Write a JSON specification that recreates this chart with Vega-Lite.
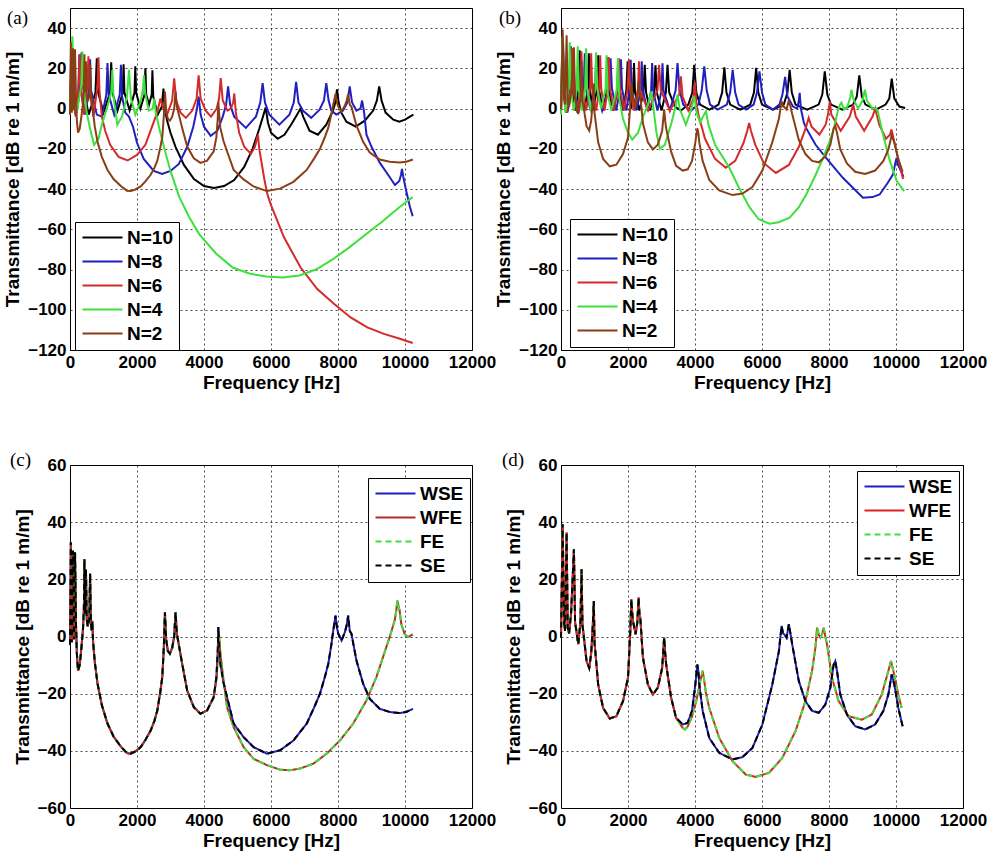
{
  "$schema": "https://vega.github.io/schema/vega-lite/v6.json",
  "background": "white",
  "padding": {"left": 3, "top": 7, "right": 5, "bottom": 5},
  "columns": 2,
  "bounds": "flush",
  "spacing": {"row": 115, "column": 89},
  "resolve": {"scale": {"x": "independent", "y": "independent", "color": "independent", "strokeDash": "independent"}, "axis": {"x": "independent", "y": "independent"}, "legend": {"color": "independent", "strokeDash": "independent"}},
  "config": {
    "font": "Liberation Sans",
    "view": {"stroke": "black", "strokeWidth": 1},
    "axis": {"labelFont": "Liberation Sans", "labelFontWeight": "bold", "labelFontSize": 17, "labelColor": "black", "titleFont": "Liberation Sans", "titleFontWeight": "bold", "titleFontSize": 19, "titleColor": "black", "grid": true, "gridColor": "black", "gridDash": [2, 3], "gridOpacity": 0.7, "gridWidth": 1, "ticks": false, "domain": false, "labelPadding": 4, "labelOverlap": false, "labelFlush": false},
    "axisX": {"titlePadding": 3},
    "axisY": {"titlePadding": 5},
    "legend": {"orient": "none", "symbolType": "M-4,0H4", "symbolSize": 100, "symbolStrokeWidth": 2, "symbolOffset": 12, "labelFont": "Liberation Sans", "labelFontWeight": "bold", "labelFontSize": 19, "labelColor": "black", "strokeColor": "black", "fillColor": "white", "padding": 6, "rowPadding": 4, "labelOffset": 15, "cornerRadius": 0},
    "title": {"font": "Liberation Serif", "fontSize": 19, "fontWeight": "normal", "anchor": "start", "frame": "group", "offset": 0, "baseline": "alphabetic", "color": "black"}
  },
  "datasets": {
    "a": [
      {"s":"N=10","f":0,"t":-2},{"s":"N=10","f":60,"t":30},{"s":"N=10","f":100,"t":12},{"s":"N=10","f":200,"t":-2},{"s":"N=10","f":300,"t":10},{"s":"N=10","f":350,"t":28},{"s":"N=10","f":400,"t":10},{"s":"N=10","f":560,"t":-3},{"s":"N=10","f":760,"t":8},{"s":"N=10","f":800,"t":25},{"s":"N=10","f":840,"t":8},{"s":"N=10","f":1000,"t":-2},{"s":"N=10","f":1195,"t":8},{"s":"N=10","f":1230,"t":23},{"s":"N=10","f":1265,"t":8},{"s":"N=10","f":1420,"t":-1},{"s":"N=10","f":1575,"t":8},{"s":"N=10","f":1600,"t":22},{"s":"N=10","f":1625,"t":8},{"s":"N=10","f":1780,"t":-1},{"s":"N=10","f":1925,"t":8},{"s":"N=10","f":1950,"t":21},{"s":"N=10","f":1975,"t":8},{"s":"N=10","f":2100,"t":0},{"s":"N=10","f":2225,"t":7},{"s":"N=10","f":2250,"t":20},{"s":"N=10","f":2275,"t":7},{"s":"N=10","f":2360,"t":2},{"s":"N=10","f":2440,"t":7},{"s":"N=10","f":2460,"t":19},{"s":"N=10","f":2485,"t":6},{"s":"N=10","f":2620,"t":-3},{"s":"N=10","f":2740,"t":1},{"s":"N=10","f":2790,"t":10},{"s":"N=10","f":2830,"t":0},{"s":"N=10","f":2900,"t":-6},{"s":"N=10","f":3000,"t":-12},{"s":"N=10","f":3150,"t":-19},{"s":"N=10","f":3400,"t":-28},{"s":"N=10","f":3700,"t":-35},{"s":"N=10","f":4000,"t":-38.5},{"s":"N=10","f":4300,"t":-39.5},{"s":"N=10","f":4600,"t":-38.5},{"s":"N=10","f":4900,"t":-35.5},{"s":"N=10","f":5200,"t":-29},{"s":"N=10","f":5450,"t":-20},{"s":"N=10","f":5650,"t":-10},{"s":"N=10","f":5760,"t":-4},{"s":"N=10","f":5840,"t":0.5},{"s":"N=10","f":5910,"t":-7},{"s":"N=10","f":6000,"t":-12},{"s":"N=10","f":6200,"t":-15},{"s":"N=10","f":6400,"t":-13},{"s":"N=10","f":6600,"t":-8},{"s":"N=10","f":6780,"t":-3},{"s":"N=10","f":6880,"t":0},{"s":"N=10","f":6960,"t":-4},{"s":"N=10","f":7150,"t":-11},{"s":"N=10","f":7400,"t":-13},{"s":"N=10","f":7650,"t":-8},{"s":"N=10","f":7850,"t":-1},{"s":"N=10","f":7920,"t":3},{"s":"N=10","f":7970,"t":9.5},{"s":"N=10","f":8020,"t":3},{"s":"N=10","f":8100,"t":-2},{"s":"N=10","f":8250,"t":-6.5},{"s":"N=10","f":8530,"t":-9},{"s":"N=10","f":8800,"t":-6},{"s":"N=10","f":9050,"t":-1},{"s":"N=10","f":9160,"t":4},{"s":"N=10","f":9230,"t":11},{"s":"N=10","f":9300,"t":4},{"s":"N=10","f":9420,"t":-2},{"s":"N=10","f":9650,"t":-5.5},{"s":"N=10","f":9830,"t":-6.5},{"s":"N=10","f":10000,"t":-5.5},{"s":"N=10","f":10150,"t":-4},{"s":"N=10","f":10250,"t":-3},
      {"s":"N=8","f":0,"t":-3},{"s":"N=8","f":40,"t":31},{"s":"N=8","f":80,"t":12},{"s":"N=8","f":160,"t":-3},{"s":"N=8","f":250,"t":10},{"s":"N=8","f":280,"t":27},{"s":"N=8","f":310,"t":10},{"s":"N=8","f":440,"t":-3},{"s":"N=8","f":570,"t":9},{"s":"N=8","f":600,"t":24.5},{"s":"N=8","f":630,"t":9},{"s":"N=8","f":800,"t":-3},{"s":"N=8","f":950,"t":-4},{"s":"N=8","f":1085,"t":7},{"s":"N=8","f":1120,"t":22.6},{"s":"N=8","f":1155,"t":7},{"s":"N=8","f":1320,"t":-3},{"s":"N=8","f":1485,"t":7},{"s":"N=8","f":1520,"t":21.8},{"s":"N=8","f":1555,"t":6},{"s":"N=8","f":1650,"t":-2},{"s":"N=8","f":1760,"t":-4},{"s":"N=8","f":1880,"t":-9},{"s":"N=8","f":2000,"t":-17},{"s":"N=8","f":2200,"t":-25},{"s":"N=8","f":2500,"t":-31},{"s":"N=8","f":2750,"t":-32.5},{"s":"N=8","f":3000,"t":-31},{"s":"N=8","f":3250,"t":-27.5},{"s":"N=8","f":3500,"t":-19},{"s":"N=8","f":3680,"t":-9},{"s":"N=8","f":3780,"t":-1},{"s":"N=8","f":3840,"t":6},{"s":"N=8","f":3900,"t":-3},{"s":"N=8","f":4000,"t":-9},{"s":"N=8","f":4200,"t":-13.5},{"s":"N=8","f":4400,"t":-11},{"s":"N=8","f":4560,"t":-4},{"s":"N=8","f":4660,"t":2},{"s":"N=8","f":4720,"t":11},{"s":"N=8","f":4780,"t":2},{"s":"N=8","f":4900,"t":-4},{"s":"N=8","f":5250,"t":-9.6},{"s":"N=8","f":5550,"t":-4},{"s":"N=8","f":5680,"t":3},{"s":"N=8","f":5750,"t":12.7},{"s":"N=8","f":5820,"t":3},{"s":"N=8","f":5950,"t":-3},{"s":"N=8","f":6250,"t":-8},{"s":"N=8","f":6550,"t":-3},{"s":"N=8","f":6680,"t":3},{"s":"N=8","f":6750,"t":13.3},{"s":"N=8","f":6820,"t":3},{"s":"N=8","f":6950,"t":-1},{"s":"N=8","f":7200,"t":-4.6},{"s":"N=8","f":7450,"t":-0.5},{"s":"N=8","f":7580,"t":4},{"s":"N=8","f":7650,"t":12.7},{"s":"N=8","f":7720,"t":4},{"s":"N=8","f":7800,"t":-1},{"s":"N=8","f":7950,"t":-3},{"s":"N=8","f":8150,"t":-1},{"s":"N=8","f":8280,"t":3},{"s":"N=8","f":8350,"t":11},{"s":"N=8","f":8420,"t":3},{"s":"N=8","f":8550,"t":-1},{"s":"N=8","f":8670,"t":0},{"s":"N=8","f":8720,"t":4},{"s":"N=8","f":8780,"t":-2},{"s":"N=8","f":8850,"t":-13},{"s":"N=8","f":9000,"t":-19},{"s":"N=8","f":9250,"t":-27},{"s":"N=8","f":9500,"t":-33},{"s":"N=8","f":9700,"t":-38},{"s":"N=8","f":9830,"t":-36},{"s":"N=8","f":9880,"t":-33},{"s":"N=8","f":9910,"t":-30},{"s":"N=8","f":9950,"t":-34},{"s":"N=8","f":10050,"t":-42},{"s":"N=8","f":10150,"t":-49},{"s":"N=8","f":10230,"t":-53.5},
      {"s":"N=6","f":0,"t":-3},{"s":"N=6","f":50,"t":30},{"s":"N=6","f":90,"t":12},{"s":"N=6","f":170,"t":-4},{"s":"N=6","f":260,"t":12},{"s":"N=6","f":290,"t":27},{"s":"N=6","f":320,"t":12},{"s":"N=6","f":420,"t":-3},{"s":"N=6","f":520,"t":12},{"s":"N=6","f":550,"t":26},{"s":"N=6","f":580,"t":12},{"s":"N=6","f":700,"t":-4},{"s":"N=6","f":820,"t":11},{"s":"N=6","f":850,"t":25.5},{"s":"N=6","f":880,"t":9},{"s":"N=6","f":950,"t":-4},{"s":"N=6","f":1050,"t":-11},{"s":"N=6","f":1200,"t":-18},{"s":"N=6","f":1450,"t":-24},{"s":"N=6","f":1720,"t":-25.8},{"s":"N=6","f":2000,"t":-23},{"s":"N=6","f":2250,"t":-18},{"s":"N=6","f":2450,"t":-9},{"s":"N=6","f":2600,"t":-2},{"s":"N=6","f":2700,"t":5},{"s":"N=6","f":2800,"t":-1},{"s":"N=6","f":2900,"t":-3},{"s":"N=6","f":3050,"t":4},{"s":"N=6","f":3110,"t":15},{"s":"N=6","f":3170,"t":4},{"s":"N=6","f":3300,"t":-2},{"s":"N=6","f":3460,"t":-4.6},{"s":"N=6","f":3650,"t":-1},{"s":"N=6","f":3780,"t":5},{"s":"N=6","f":3840,"t":16.5},{"s":"N=6","f":3900,"t":5},{"s":"N=6","f":4050,"t":-1},{"s":"N=6","f":4210,"t":-4},{"s":"N=6","f":4380,"t":0},{"s":"N=6","f":4450,"t":5},{"s":"N=6","f":4500,"t":15.2},{"s":"N=6","f":4560,"t":4},{"s":"N=6","f":4700,"t":-1},{"s":"N=6","f":4800,"t":0},{"s":"N=6","f":4870,"t":3},{"s":"N=6","f":4905,"t":7.5},{"s":"N=6","f":4950,"t":-2},{"s":"N=6","f":5050,"t":-12},{"s":"N=6","f":5200,"t":-19},{"s":"N=6","f":5400,"t":-22.5},{"s":"N=6","f":5520,"t":-19},{"s":"N=6","f":5580,"t":-15},{"s":"N=6","f":5610,"t":-13},{"s":"N=6","f":5650,"t":-20},{"s":"N=6","f":5800,"t":-35},{"s":"N=6","f":5890,"t":-42.5},{"s":"N=6","f":6000,"t":-48},{"s":"N=6","f":6387,"t":-64},{"s":"N=6","f":6884,"t":-79},{"s":"N=6","f":7381,"t":-89.7},{"s":"N=6","f":7879,"t":-97},{"s":"N=6","f":8377,"t":-103.8},{"s":"N=6","f":8874,"t":-108.8},{"s":"N=6","f":9372,"t":-112},{"s":"N=6","f":9870,"t":-114.5},{"s":"N=6","f":10230,"t":-116.5},
      {"s":"N=4","f":0,"t":-3},{"s":"N=4","f":70,"t":36},{"s":"N=4","f":110,"t":14},{"s":"N=4","f":200,"t":-2},{"s":"N=4","f":340,"t":12},{"s":"N=4","f":370,"t":28.4},{"s":"N=4","f":400,"t":12},{"s":"N=4","f":500,"t":-2},{"s":"N=4","f":600,"t":-10},{"s":"N=4","f":720,"t":-18},{"s":"N=4","f":850,"t":-15},{"s":"N=4","f":950,"t":-8},{"s":"N=4","f":1100,"t":0},{"s":"N=4","f":1230,"t":8},{"s":"N=4","f":1263,"t":19.3},{"s":"N=4","f":1300,"t":6},{"s":"N=4","f":1413,"t":-8},{"s":"N=4","f":1550,"t":-4},{"s":"N=4","f":1700,"t":6},{"s":"N=4","f":1761,"t":19.3},{"s":"N=4","f":1820,"t":5},{"s":"N=4","f":1950,"t":-3},{"s":"N=4","f":2100,"t":3},{"s":"N=4","f":2180,"t":10},{"s":"N=4","f":2208,"t":16.5},{"s":"N=4","f":2240,"t":8},{"s":"N=4","f":2350,"t":-1},{"s":"N=4","f":2470,"t":0},{"s":"N=4","f":2517,"t":5},{"s":"N=4","f":2560,"t":-2},{"s":"N=4","f":2667,"t":-10},{"s":"N=4","f":2866,"t":-23},{"s":"N=4","f":3000,"t":-31},{"s":"N=4","f":3264,"t":-44},{"s":"N=4","f":3560,"t":-54},{"s":"N=4","f":3860,"t":-62.5},{"s":"N=4","f":4358,"t":-72},{"s":"N=4","f":4856,"t":-79},{"s":"N=4","f":5353,"t":-82},{"s":"N=4","f":5851,"t":-83.5},{"s":"N=4","f":6348,"t":-84},{"s":"N=4","f":6846,"t":-83},{"s":"N=4","f":7343,"t":-80},{"s":"N=4","f":7841,"t":-75},{"s":"N=4","f":8338,"t":-69},{"s":"N=4","f":8836,"t":-62.5},{"s":"N=4","f":9333,"t":-56},{"s":"N=4","f":9831,"t":-49},{"s":"N=4","f":10229,"t":-44}
    ],
    "b": [
      {"s":"N=10","f":0,"t":-2},{"s":"N=10","f":40,"t":33},{"s":"N=10","f":80,"t":10},{"s":"N=10","f":150,"t":-2},{"s":"N=10","f":250,"t":10},{"s":"N=10","f":290,"t":31},{"s":"N=10","f":330,"t":10},{"s":"N=10","f":420,"t":-1},{"s":"N=10","f":530,"t":10},{"s":"N=10","f":560,"t":29},{"s":"N=10","f":590,"t":10},{"s":"N=10","f":700,"t":-1},{"s":"N=10","f":800,"t":10},{"s":"N=10","f":830,"t":27.5},{"s":"N=10","f":860,"t":10},{"s":"N=10","f":950,"t":-1},{"s":"N=10","f":1080,"t":10},{"s":"N=10","f":1110,"t":26.5},{"s":"N=10","f":1140,"t":9},{"s":"N=10","f":1250,"t":-1},{"s":"N=10","f":1370,"t":9},{"s":"N=10","f":1400,"t":25.5},{"s":"N=10","f":1430,"t":9},{"s":"N=10","f":1550,"t":-1},{"s":"N=10","f":1680,"t":9},{"s":"N=10","f":1710,"t":24.5},{"s":"N=10","f":1740,"t":9},{"s":"N=10","f":1850,"t":-1},{"s":"N=10","f":1950,"t":9},{"s":"N=10","f":1990,"t":23.5},{"s":"N=10","f":2030,"t":8},{"s":"N=10","f":2100,"t":0},{"s":"N=10","f":2150,"t":9},{"s":"N=10","f":2180,"t":22.6},{"s":"N=10","f":2210,"t":8},{"s":"N=10","f":2340,"t":-1},{"s":"N=10","f":2460,"t":8},{"s":"N=10","f":2500,"t":21.8},{"s":"N=10","f":2540,"t":8},{"s":"N=10","f":2660,"t":-1},{"s":"N=10","f":2780,"t":8},{"s":"N=10","f":2820,"t":21.5},{"s":"N=10","f":2860,"t":8},{"s":"N=10","f":3000,"t":-1},{"s":"N=10","f":3130,"t":8},{"s":"N=10","f":3180,"t":21.8},{"s":"N=10","f":3230,"t":8},{"s":"N=10","f":3400,"t":1},{"s":"N=10","f":3580,"t":-1},{"s":"N=10","f":3800,"t":2},{"s":"N=10","f":3920,"t":8},{"s":"N=10","f":3977,"t":21.8},{"s":"N=10","f":4040,"t":8},{"s":"N=10","f":4150,"t":2},{"s":"N=10","f":4430,"t":-0.5},{"s":"N=10","f":4700,"t":2},{"s":"N=10","f":4810,"t":8},{"s":"N=10","f":4876,"t":20.5},{"s":"N=10","f":4940,"t":8},{"s":"N=10","f":5050,"t":2},{"s":"N=10","f":5350,"t":-0.5},{"s":"N=10","f":5650,"t":2},{"s":"N=10","f":5760,"t":8},{"s":"N=10","f":5826,"t":20.2},{"s":"N=10","f":5890,"t":8},{"s":"N=10","f":6000,"t":2},{"s":"N=10","f":6330,"t":-0.5},{"s":"N=10","f":6650,"t":2},{"s":"N=10","f":6760,"t":8},{"s":"N=10","f":6825,"t":19.3},{"s":"N=10","f":6890,"t":8},{"s":"N=10","f":7000,"t":2},{"s":"N=10","f":7350,"t":-0.5},{"s":"N=10","f":7690,"t":2},{"s":"N=10","f":7800,"t":7},{"s":"N=10","f":7874,"t":18.5},{"s":"N=10","f":7950,"t":7},{"s":"N=10","f":8060,"t":2},{"s":"N=10","f":8400,"t":-0.5},{"s":"N=10","f":8720,"t":2},{"s":"N=10","f":8830,"t":6},{"s":"N=10","f":8904,"t":16.5},{"s":"N=10","f":8980,"t":6},{"s":"N=10","f":9090,"t":2},{"s":"N=10","f":9400,"t":-0.5},{"s":"N=10","f":9690,"t":2},{"s":"N=10","f":9800,"t":5},{"s":"N=10","f":9873,"t":14.9},{"s":"N=10","f":9950,"t":5},{"s":"N=10","f":10100,"t":1},{"s":"N=10","f":10273,"t":0.3},
      {"s":"N=8","f":0,"t":-2},{"s":"N=8","f":60,"t":34},{"s":"N=8","f":100,"t":10},{"s":"N=8","f":190,"t":-2},{"s":"N=8","f":340,"t":10},{"s":"N=8","f":370,"t":30},{"s":"N=8","f":400,"t":10},{"s":"N=8","f":520,"t":-2},{"s":"N=8","f":680,"t":10},{"s":"N=8","f":710,"t":27.5},{"s":"N=8","f":740,"t":10},{"s":"N=8","f":880,"t":-1},{"s":"N=8","f":1020,"t":10},{"s":"N=8","f":1050,"t":26.5},{"s":"N=8","f":1080,"t":10},{"s":"N=8","f":1230,"t":-1},{"s":"N=8","f":1440,"t":10},{"s":"N=8","f":1479,"t":25},{"s":"N=8","f":1520,"t":10},{"s":"N=8","f":1650,"t":-1},{"s":"N=8","f":1760,"t":10},{"s":"N=8","f":1790,"t":24.5},{"s":"N=8","f":1820,"t":10},{"s":"N=8","f":1950,"t":-1},{"s":"N=8","f":2050,"t":10},{"s":"N=8","f":2079,"t":24.3},{"s":"N=8","f":2110,"t":9},{"s":"N=8","f":2250,"t":-1},{"s":"N=8","f":2380,"t":9},{"s":"N=8","f":2410,"t":23.5},{"s":"N=8","f":2440,"t":9},{"s":"N=8","f":2580,"t":-1},{"s":"N=8","f":2690,"t":9},{"s":"N=8","f":2720,"t":22.6},{"s":"N=8","f":2750,"t":9},{"s":"N=8","f":2880,"t":-1},{"s":"N=8","f":3000,"t":9},{"s":"N=8","f":3030,"t":22.5},{"s":"N=8","f":3060,"t":9},{"s":"N=8","f":3250,"t":-1},{"s":"N=8","f":3420,"t":9},{"s":"N=8","f":3478,"t":22.6},{"s":"N=8","f":3540,"t":9},{"s":"N=8","f":3650,"t":2},{"s":"N=8","f":3880,"t":-1},{"s":"N=8","f":4100,"t":2},{"s":"N=8","f":4200,"t":9},{"s":"N=8","f":4277,"t":21},{"s":"N=8","f":4350,"t":9},{"s":"N=8","f":4450,"t":2},{"s":"N=8","f":4676,"t":-0.5},{"s":"N=8","f":4950,"t":2},{"s":"N=8","f":5050,"t":8},{"s":"N=8","f":5125,"t":19.3},{"s":"N=8","f":5200,"t":8},{"s":"N=8","f":5300,"t":2},{"s":"N=8","f":5526,"t":-0.5},{"s":"N=8","f":5750,"t":2},{"s":"N=8","f":5850,"t":8},{"s":"N=8","f":5925,"t":18.5},{"s":"N=8","f":6000,"t":8},{"s":"N=8","f":6100,"t":2},{"s":"N=8","f":6325,"t":-0.5},{"s":"N=8","f":6520,"t":2},{"s":"N=8","f":6610,"t":7},{"s":"N=8","f":6690,"t":15.8},{"s":"N=8","f":6760,"t":6},{"s":"N=8","f":6925,"t":1},{"s":"N=8","f":7050,"t":0},{"s":"N=8","f":7100,"t":4},{"s":"N=8","f":7125,"t":7.8},{"s":"N=8","f":7160,"t":0},{"s":"N=8","f":7250,"t":-7},{"s":"N=8","f":7314,"t":-9.6},{"s":"N=8","f":7600,"t":-18},{"s":"N=8","f":7913,"t":-24.5},{"s":"N=8","f":8413,"t":-34.4},{"s":"N=8","f":9013,"t":-44.3},{"s":"N=8","f":9300,"t":-44},{"s":"N=8","f":9512,"t":-42.7},{"s":"N=8","f":9750,"t":-37},{"s":"N=8","f":9912,"t":-32.7},{"s":"N=8","f":9980,"t":-27},{"s":"N=8","f":10020,"t":-24.5},{"s":"N=8","f":10060,"t":-28},{"s":"N=8","f":10150,"t":-31},{"s":"N=8","f":10223,"t":-34},
      {"s":"N=6","f":0,"t":-2},{"s":"N=6","f":50,"t":35},{"s":"N=6","f":90,"t":10},{"s":"N=6","f":170,"t":-2},{"s":"N=6","f":300,"t":10},{"s":"N=6","f":330,"t":30},{"s":"N=6","f":360,"t":10},{"s":"N=6","f":480,"t":-2},{"s":"N=6","f":580,"t":10},{"s":"N=6","f":610,"t":28.5},{"s":"N=6","f":640,"t":10},{"s":"N=6","f":750,"t":-1},{"s":"N=6","f":870,"t":10},{"s":"N=6","f":900,"t":27.5},{"s":"N=6","f":930,"t":10},{"s":"N=6","f":1050,"t":-1},{"s":"N=6","f":1140,"t":10},{"s":"N=6","f":1170,"t":26.5},{"s":"N=6","f":1200,"t":10},{"s":"N=6","f":1300,"t":-1},{"s":"N=6","f":1400,"t":10},{"s":"N=6","f":1430,"t":25.5},{"s":"N=6","f":1460,"t":10},{"s":"N=6","f":1580,"t":-1},{"s":"N=6","f":1700,"t":10},{"s":"N=6","f":1730,"t":25},{"s":"N=6","f":1760,"t":10},{"s":"N=6","f":1880,"t":-1},{"s":"N=6","f":1990,"t":10},{"s":"N=6","f":2028,"t":24.5},{"s":"N=6","f":2060,"t":10},{"s":"N=6","f":2180,"t":-1},{"s":"N=6","f":2300,"t":10},{"s":"N=6","f":2328,"t":23.5},{"s":"N=6","f":2360,"t":9},{"s":"N=6","f":2600,"t":-1},{"s":"N=6","f":2880,"t":9},{"s":"N=6","f":2928,"t":21.8},{"s":"N=6","f":2980,"t":9},{"s":"N=6","f":3250,"t":-1},{"s":"N=6","f":3530,"t":7},{"s":"N=6","f":3578,"t":16},{"s":"N=6","f":3630,"t":6},{"s":"N=6","f":3800,"t":-1},{"s":"N=6","f":3950,"t":5},{"s":"N=6","f":3997,"t":13},{"s":"N=6","f":4040,"t":3},{"s":"N=6","f":4100,"t":-3},{"s":"N=6","f":4300,"t":-15},{"s":"N=6","f":4600,"t":-25},{"s":"N=6","f":4916,"t":-29.4},{"s":"N=6","f":5200,"t":-26},{"s":"N=6","f":5450,"t":-17},{"s":"N=6","f":5560,"t":-11},{"s":"N=6","f":5615,"t":-7.1},{"s":"N=6","f":5670,"t":-11},{"s":"N=6","f":5800,"t":-18},{"s":"N=6","f":6050,"t":-27},{"s":"N=6","f":6415,"t":-32},{"s":"N=6","f":6800,"t":-28},{"s":"N=6","f":7100,"t":-19},{"s":"N=6","f":7300,"t":-10},{"s":"N=6","f":7394,"t":-4.6},{"s":"N=6","f":7480,"t":-9},{"s":"N=6","f":7713,"t":-12.9},{"s":"N=6","f":7900,"t":-8},{"s":"N=6","f":7980,"t":-2},{"s":"N=6","f":8023,"t":3.6},{"s":"N=6","f":8070,"t":-3},{"s":"N=6","f":8350,"t":-11},{"s":"N=6","f":8620,"t":-4},{"s":"N=6","f":8723,"t":2},{"s":"N=6","f":8800,"t":-4},{"s":"N=6","f":9050,"t":-11},{"s":"N=6","f":9300,"t":-4},{"s":"N=6","f":9380,"t":0},{"s":"N=6","f":9500,"t":-8},{"s":"N=6","f":9700,"t":-15},{"s":"N=6","f":9820,"t":-13},{"s":"N=6","f":9862,"t":-10.4},{"s":"N=6","f":9900,"t":-13},{"s":"N=6","f":10050,"t":-24},{"s":"N=6","f":10212,"t":-35},
      {"s":"N=4","f":0,"t":-3},{"s":"N=4","f":40,"t":36},{"s":"N=4","f":80,"t":10},{"s":"N=4","f":130,"t":-2},{"s":"N=4","f":230,"t":10},{"s":"N=4","f":260,"t":33},{"s":"N=4","f":290,"t":10},{"s":"N=4","f":380,"t":-1},{"s":"N=4","f":470,"t":10},{"s":"N=4","f":500,"t":31},{"s":"N=4","f":530,"t":10},{"s":"N=4","f":620,"t":-1},{"s":"N=4","f":720,"t":10},{"s":"N=4","f":750,"t":30},{"s":"N=4","f":780,"t":10},{"s":"N=4","f":900,"t":-2},{"s":"N=4","f":1020,"t":10},{"s":"N=4","f":1050,"t":28},{"s":"N=4","f":1080,"t":10},{"s":"N=4","f":1200,"t":0},{"s":"N=4","f":1330,"t":10},{"s":"N=4","f":1360,"t":26.5},{"s":"N=4","f":1390,"t":8},{"s":"N=4","f":1500,"t":-1},{"s":"N=4","f":1660,"t":9},{"s":"N=4","f":1700,"t":25},{"s":"N=4","f":1740,"t":5},{"s":"N=4","f":1850,"t":-5},{"s":"N=4","f":2000,"t":-12},{"s":"N=4","f":2128,"t":-15.4},{"s":"N=4","f":2300,"t":-12},{"s":"N=4","f":2450,"t":-4},{"s":"N=4","f":2600,"t":2},{"s":"N=4","f":2700,"t":8.6},{"s":"N=4","f":2760,"t":0},{"s":"N=4","f":2850,"t":-12},{"s":"N=4","f":2950,"t":-20},{"s":"N=4","f":3100,"t":-18},{"s":"N=4","f":3300,"t":-7},{"s":"N=4","f":3420,"t":1},{"s":"N=4","f":3478,"t":7},{"s":"N=4","f":3540,"t":0},{"s":"N=4","f":3728,"t":-8},{"s":"N=4","f":3900,"t":0},{"s":"N=4","f":3977,"t":6},{"s":"N=4","f":4050,"t":-2},{"s":"N=4","f":4150,"t":-7},{"s":"N=4","f":4270,"t":-3},{"s":"N=4","f":4327,"t":-1.3},{"s":"N=4","f":4400,"t":-8},{"s":"N=4","f":4600,"t":-18},{"s":"N=4","f":5026,"t":-29.4},{"s":"N=4","f":5300,"t":-39},{"s":"N=4","f":5626,"t":-49},{"s":"N=4","f":5900,"t":-55},{"s":"N=4","f":6226,"t":-57.2},{"s":"N=4","f":6500,"t":-56.5},{"s":"N=4","f":6825,"t":-54.2},{"s":"N=4","f":7100,"t":-49},{"s":"N=4","f":7325,"t":-42.6},{"s":"N=4","f":7600,"t":-33},{"s":"N=4","f":7824,"t":-24.5},{"s":"N=4","f":8000,"t":-17},{"s":"N=4","f":8124,"t":-11.2},{"s":"N=4","f":8274,"t":-0.5},{"s":"N=4","f":8330,"t":2},{"s":"N=4","f":8373,"t":3},{"s":"N=4","f":8450,"t":-0.5},{"s":"N=4","f":8550,"t":1},{"s":"N=4","f":8640,"t":6},{"s":"N=4","f":8673,"t":9.4},{"s":"N=4","f":8720,"t":5},{"s":"N=4","f":8870,"t":0},{"s":"N=4","f":9000,"t":4},{"s":"N=4","f":9073,"t":9.4},{"s":"N=4","f":9130,"t":4},{"s":"N=4","f":9300,"t":0},{"s":"N=4","f":9400,"t":0.3},{"s":"N=4","f":9450,"t":-1},{"s":"N=4","f":9600,"t":-12},{"s":"N=4","f":9800,"t":-25},{"s":"N=4","f":10023,"t":-36},{"s":"N=4","f":10243,"t":-41}
    ],
    "c1": [
      {"f":0,"t":-3},{"f":25,"t":33},{"f":55,"t":-2},{"f":90,"t":30},{"f":120,"t":-1},{"f":150,"t":29.5},{"f":180,"t":4},{"f":205,"t":-6},{"f":240,"t":-12},{"f":290,"t":-10},{"f":340,"t":-4},{"f":390,"t":3},{"f":415,"t":10},{"f":430,"t":27},{"f":450,"t":8},{"f":476,"t":23.5},{"f":500,"t":6},{"f":530,"t":3.5},{"f":575,"t":6},{"f":600,"t":22},{"f":625,"t":5},{"f":645,"t":2},{"f":665,"t":5.5},{"f":690,"t":-2},{"f":740,"t":-9},{"f":822,"t":-16.5},{"f":950,"t":-24},{"f":1120,"t":-30.5},{"f":1300,"t":-35},{"f":1516,"t":-38.5},{"f":1700,"t":-40.8},{"f":1813,"t":-41},{"f":1950,"t":-40.2},{"f":2111,"t":-38.7},{"f":2250,"t":-36.2},{"f":2408,"t":-32.9},{"f":2520,"t":-29.5},{"f":2606,"t":-25.9},{"f":2700,"t":-19},{"f":2755,"t":-14.2},{"f":2800,"t":-4},{"f":2834,"t":8.5},{"f":2870,"t":-1},{"f":2920,"t":-5},{"f":2980,"t":-6},{"f":3050,"t":-4},{"f":3110,"t":0},{"f":3151,"t":8.5},{"f":3190,"t":1},{"f":3250,"t":-3},{"f":3349,"t":-9.6},{"f":3498,"t":-18.9},{"f":3696,"t":-24.7},{"f":3894,"t":-27},{"f":4092,"t":-25.9},{"f":4290,"t":-21.2},{"f":4370,"t":-14.2},{"f":4410,"t":-5},{"f":4429,"t":3.3},{"f":4455,"t":-3},{"f":4489,"t":-9.6},{"f":4580,"t":-16},{"f":4687,"t":-21.2},{"f":4885,"t":-30.5},{"f":5182,"t":-35.2},{"f":5480,"t":-38.7},{"f":5876,"t":-41},{"f":6273,"t":-39.8},{"f":6669,"t":-36.4},{"f":7065,"t":-30.5},{"f":7300,"t":-24.5},{"f":7462,"t":-20},{"f":7600,"t":-14.5},{"f":7709,"t":-9.6},{"f":7800,"t":-3},{"f":7858,"t":2.1},{"f":7927,"t":7.3},{"f":7970,"t":3},{"f":8007,"t":1},{"f":8106,"t":-1.4},{"f":8205,"t":1.5},{"f":8260,"t":4},{"f":8304,"t":7.3},{"f":8350,"t":2},{"f":8403,"t":0.9},{"f":8480,"t":-4},{"f":8551,"t":-8.4},{"f":8750,"t":-16.5},{"f":8948,"t":-21.8},{"f":9245,"t":-25.3},{"f":9542,"t":-26.4},{"f":9840,"t":-26.8},{"f":10038,"t":-26.4},{"f":10236,"t":-25.3}
    ],
    "c2": [
      {"f":0,"t":-3},{"f":25,"t":33},{"f":55,"t":-2},{"f":90,"t":30},{"f":120,"t":-1},{"f":150,"t":29.5},{"f":180,"t":4},{"f":205,"t":-6},{"f":240,"t":-12},{"f":290,"t":-10},{"f":340,"t":-4},{"f":390,"t":3},{"f":415,"t":10},{"f":430,"t":27},{"f":450,"t":8},{"f":476,"t":23.5},{"f":500,"t":6},{"f":530,"t":3.5},{"f":575,"t":6},{"f":600,"t":22},{"f":625,"t":5},{"f":645,"t":2},{"f":665,"t":5.5},{"f":690,"t":-2},{"f":740,"t":-9},{"f":822,"t":-16.5},{"f":950,"t":-24},{"f":1120,"t":-30.5},{"f":1300,"t":-35},{"f":1516,"t":-38.5},{"f":1700,"t":-40.8},{"f":1813,"t":-41},{"f":1950,"t":-40.2},{"f":2111,"t":-38.7},{"f":2250,"t":-36.2},{"f":2408,"t":-32.9},{"f":2520,"t":-29.5},{"f":2606,"t":-25.9},{"f":2700,"t":-19},{"f":2755,"t":-14.2},{"f":2800,"t":-4},{"f":2834,"t":8.5},{"f":2870,"t":-1},{"f":2920,"t":-5},{"f":2980,"t":-6},{"f":3050,"t":-4},{"f":3110,"t":0},{"f":3151,"t":8.5},{"f":3190,"t":1},{"f":3250,"t":-3},{"f":3349,"t":-9.6},{"f":3498,"t":-18.9},{"f":3696,"t":-24.7},{"f":3894,"t":-27},{"f":4092,"t":-25.9},{"f":4290,"t":-21.2},{"f":4380,"t":-14.2},{"f":4420,"t":-5},{"f":4445,"t":1.5},{"f":4470,"t":-3},{"f":4500,"t":-7},{"f":4580,"t":-15},{"f":4687,"t":-24.7},{"f":4885,"t":-31.7},{"f":5182,"t":-38.7},{"f":5480,"t":-42.8},{"f":5876,"t":-45},{"f":6273,"t":-46.6},{"f":6570,"t":-46.8},{"f":6867,"t":-46.2},{"f":7263,"t":-44.5},{"f":7660,"t":-41},{"f":8056,"t":-36.4},{"f":8452,"t":-30.5},{"f":8849,"t":-22.4},{"f":9146,"t":-14.2},{"f":9344,"t":-7.2},{"f":9542,"t":-0.2},{"f":9691,"t":5.6},{"f":9740,"t":9},{"f":9770,"t":12.6},{"f":9800,"t":11},{"f":9840,"t":9},{"f":9889,"t":4.4},{"f":9988,"t":0.9},{"f":10087,"t":-0.2},{"f":10236,"t":0.7}
    ],
    "d1": [
      {"f":0,"t":-0.4},{"f":50,"t":39.3},{"f":90,"t":5},{"f":119,"t":2},{"f":168,"t":36.4},{"f":200,"t":3},{"f":240,"t":1},{"f":300,"t":8},{"f":386,"t":30.5},{"f":420,"t":5},{"f":446,"t":3},{"f":515,"t":-2.7},{"f":580,"t":5},{"f":614,"t":23.5},{"f":640,"t":4},{"f":663,"t":2},{"f":762,"t":-8.6},{"f":842,"t":-11},{"f":900,"t":-6},{"f":941,"t":2},{"f":980,"t":12.4},{"f":1000,"t":-2},{"f":1030,"t":-6},{"f":1109,"t":-16.8},{"f":1257,"t":-25},{"f":1455,"t":-28.7},{"f":1653,"t":-27.9},{"f":1851,"t":-22.6},{"f":2000,"t":-14.4},{"f":2069,"t":2},{"f":2099,"t":13},{"f":2140,"t":6},{"f":2168,"t":4.3},{"f":2228,"t":0.8},{"f":2277,"t":4.8},{"f":2317,"t":13.6},{"f":2345,"t":7},{"f":2366,"t":6.6},{"f":2446,"t":-7.4},{"f":2594,"t":-16.8},{"f":2743,"t":-20.3},{"f":2891,"t":-17.9},{"f":3020,"t":-11},{"f":3079,"t":-0.4},{"f":3110,"t":-6},{"f":3139,"t":-9.8},{"f":3287,"t":-21.4},{"f":3436,"t":-28.5},{"f":3634,"t":-30.8},{"f":3782,"t":-30.2},{"f":3911,"t":-26},{"f":4010,"t":-16.8},{"f":4069,"t":-9.8},{"f":4100,"t":-12},{"f":4129,"t":-16.8},{"f":4228,"t":-26},{"f":4426,"t":-35.5},{"f":4723,"t":-40.7},{"f":5119,"t":-43},{"f":5416,"t":-42.2},{"f":5713,"t":-39},{"f":6010,"t":-30.8},{"f":6307,"t":-16.8},{"f":6505,"t":-5.1},{"f":6584,"t":3.7},{"f":6630,"t":1},{"f":6663,"t":0.8},{"f":6733,"t":-0.4},{"f":6802,"t":4.3},{"f":6850,"t":1},{"f":6901,"t":-2.7},{"f":7099,"t":-15.6},{"f":7297,"t":-22.6},{"f":7495,"t":-26},{"f":7693,"t":-26.7},{"f":7891,"t":-23.8},{"f":8040,"t":-17.9},{"f":8139,"t":-9.8},{"f":8188,"t":-8.6},{"f":8238,"t":-12},{"f":8337,"t":-20.3},{"f":8535,"t":-27.3},{"f":8782,"t":-31.4},{"f":9079,"t":-32.5},{"f":9376,"t":-30.8},{"f":9624,"t":-26},{"f":9772,"t":-20.3},{"f":9871,"t":-13.3},{"f":9950,"t":-16.8},{"f":10069,"t":-25},{"f":10198,"t":-31.4}
    ],
    "d2": [
      {"f":0,"t":-0.4},{"f":50,"t":39.3},{"f":90,"t":5},{"f":119,"t":2},{"f":168,"t":36.4},{"f":200,"t":3},{"f":240,"t":1},{"f":300,"t":8},{"f":386,"t":30.5},{"f":420,"t":5},{"f":446,"t":3},{"f":515,"t":-2.7},{"f":580,"t":5},{"f":614,"t":23.5},{"f":640,"t":4},{"f":663,"t":2},{"f":762,"t":-8.6},{"f":842,"t":-11},{"f":900,"t":-6},{"f":941,"t":2},{"f":980,"t":12.4},{"f":1000,"t":-2},{"f":1030,"t":-6},{"f":1109,"t":-16.8},{"f":1257,"t":-25},{"f":1455,"t":-28.7},{"f":1653,"t":-27.9},{"f":1851,"t":-22.6},{"f":2000,"t":-14.4},{"f":2069,"t":2},{"f":2099,"t":13},{"f":2140,"t":6},{"f":2168,"t":4.3},{"f":2228,"t":0.8},{"f":2277,"t":4.8},{"f":2317,"t":13.6},{"f":2345,"t":7},{"f":2366,"t":6.6},{"f":2446,"t":-7.4},{"f":2594,"t":-16.8},{"f":2743,"t":-20.3},{"f":2891,"t":-17.9},{"f":3020,"t":-11},{"f":3079,"t":-0.4},{"f":3110,"t":-6},{"f":3139,"t":-9.8},{"f":3287,"t":-21.4},{"f":3436,"t":-28.5},{"f":3634,"t":-32},{"f":3700,"t":-32.5},{"f":3782,"t":-31.5},{"f":3911,"t":-28},{"f":4050,"t":-22},{"f":4150,"t":-16},{"f":4228,"t":-12},{"f":4270,"t":-15},{"f":4330,"t":-20},{"f":4426,"t":-25},{"f":4723,"t":-35.5},{"f":5119,"t":-43.6},{"f":5515,"t":-48.3},{"f":5812,"t":-49.1},{"f":6208,"t":-47.7},{"f":6604,"t":-42.5},{"f":7000,"t":-33.1},{"f":7297,"t":-22.6},{"f":7495,"t":-12},{"f":7594,"t":-3.9},{"f":7644,"t":3.1},{"f":7700,"t":0.5},{"f":7743,"t":-0.4},{"f":7800,"t":1},{"f":7842,"t":3.1},{"f":7890,"t":0},{"f":7941,"t":-2.7},{"f":8089,"t":-14.4},{"f":8287,"t":-22.6},{"f":8584,"t":-27.9},{"f":8980,"t":-29.1},{"f":9277,"t":-27.3},{"f":9574,"t":-20.3},{"f":9772,"t":-12},{"f":9851,"t":-8.6},{"f":9921,"t":-12},{"f":10069,"t":-20.3},{"f":10168,"t":-25}
    ]
  },
  "concat": [
    {
      "width": 402, "height": 342,
      "title": {"text": "(a)", "dx": -63, "dy": 24},
      "encoding": {
        "x": {"field": "f", "type": "quantitative", "scale": {"domain": [0, 12000], "nice": false}, "axis": {"values": [0, 2000, 4000, 6000, 8000, 10000, 12000], "format": "d", "title": "Frequency [Hz]"}},
        "y": {"field": "t", "type": "quantitative", "scale": {"domain": [-120, 50], "nice": false}, "axis": {"values": [-120, -100, -80, -60, -40, -20, 0, 20, 40], "title": "Transmittance [dB  re 1 m/m]"}}
      },
      "layer": [
        {"data": {"name": "a"}, "transform": [{"filter": "datum.s == 'N=10'"}], "mark": {"type": "line", "strokeWidth": 2}, "encoding": {"color": {"datum": "N=10", "type": "nominal", "scale": {"domain": ["N=10", "N=8", "N=6", "N=4", "N=2"], "range": ["#000000", "#2020c0", "#d42a2a", "#3ee03e", "#8a3e16"]}, "legend": {"title": null, "legendX": 5, "legendY": 214}}}},
        {"data": {"name": "a"}, "transform": [{"filter": "datum.s == 'N=8'"}], "mark": {"type": "line", "strokeWidth": 2}, "encoding": {"color": {"datum": "N=8", "type": "nominal"}}},
        {"data": {"name": "a"}, "transform": [{"filter": "datum.s == 'N=6'"}], "mark": {"type": "line", "strokeWidth": 2}, "encoding": {"color": {"datum": "N=6", "type": "nominal"}}},
        {"data": {"name": "a"}, "transform": [{"filter": "datum.s == 'N=4'"}], "mark": {"type": "line", "strokeWidth": 2}, "encoding": {"color": {"datum": "N=4", "type": "nominal"}}},
        {"data": {"name": "c1"}, "mark": {"type": "line", "strokeWidth": 2}, "encoding": {"color": {"datum": "N=2", "type": "nominal"}}}
      ]
    },
    {
      "width": 402, "height": 342,
      "title": {"text": "(b)", "dx": -62, "dy": 24},
      "encoding": {
        "x": {"field": "f", "type": "quantitative", "scale": {"domain": [0, 12000], "nice": false}, "axis": {"values": [0, 2000, 4000, 6000, 8000, 10000, 12000], "format": "d", "title": "Frequency [Hz]"}},
        "y": {"field": "t", "type": "quantitative", "scale": {"domain": [-120, 50], "nice": false}, "axis": {"values": [-120, -100, -80, -60, -40, -20, 0, 20, 40], "title": "Transmittance [dB  re 1 m/m]"}}
      },
      "layer": [
        {"data": {"name": "b"}, "transform": [{"filter": "datum.s == 'N=10'"}], "mark": {"type": "line", "strokeWidth": 2}, "encoding": {"color": {"datum": "N=10", "type": "nominal", "scale": {"domain": ["N=10", "N=8", "N=6", "N=4", "N=2"], "range": ["#000000", "#2020c0", "#d42a2a", "#3ee03e", "#8a3e16"]}, "legend": {"title": null, "legendX": 9, "legendY": 211}}}},
        {"data": {"name": "b"}, "transform": [{"filter": "datum.s == 'N=8'"}], "mark": {"type": "line", "strokeWidth": 2}, "encoding": {"color": {"datum": "N=8", "type": "nominal"}}},
        {"data": {"name": "b"}, "transform": [{"filter": "datum.s == 'N=6'"}], "mark": {"type": "line", "strokeWidth": 2}, "encoding": {"color": {"datum": "N=6", "type": "nominal"}}},
        {"data": {"name": "b"}, "transform": [{"filter": "datum.s == 'N=4'"}], "mark": {"type": "line", "strokeWidth": 2}, "encoding": {"color": {"datum": "N=4", "type": "nominal"}}},
        {"data": {"name": "d1"}, "mark": {"type": "line", "strokeWidth": 2}, "encoding": {"color": {"datum": "N=2", "type": "nominal"}}}
      ]
    },
    {
      "width": 402, "height": 343,
      "title": {"text": "(c)", "dx": -60, "dy": 18},
      "encoding": {
        "x": {"field": "f", "type": "quantitative", "scale": {"domain": [0, 12000], "nice": false}, "axis": {"values": [0, 2000, 4000, 6000, 8000, 10000, 12000], "format": "d", "title": "Frequency [Hz]"}},
        "y": {"field": "t", "type": "quantitative", "scale": {"domain": [-60, 60], "nice": false}, "axis": {"values": [-60, -40, -20, 0, 20, 40, 60], "title": "Transmittance [dB  re 1 m/m]"}}
      },
      "layer": [
        {"data": {"name": "c1"}, "mark": {"type": "line", "strokeWidth": 2}, "encoding": {
          "color": {"datum": "WSE", "type": "nominal", "scale": {"domain": ["WSE", "WFE", "FE", "SE"], "range": ["#2020c0", "#b82828", "#3ee03e", "#000000"]}, "legend": {"title": null, "legendX": 298, "legendY": 13}},
          "strokeDash": {"datum": "WSE", "type": "nominal", "scale": {"domain": ["WSE", "WFE", "FE", "SE"], "range": [[1, 0], [1, 0], [6, 4], [6, 4]]}, "legend": {"title": null, "legendX": 298, "legendY": 13}}}},
        {"data": {"name": "c2"}, "mark": {"type": "line", "strokeWidth": 2}, "encoding": {"color": {"datum": "WFE", "type": "nominal"}, "strokeDash": {"datum": "WFE", "type": "nominal"}}},
        {"data": {"name": "c2"}, "mark": {"type": "line", "strokeWidth": 2}, "encoding": {"color": {"datum": "FE", "type": "nominal"}, "strokeDash": {"datum": "FE", "type": "nominal"}}},
        {"data": {"name": "c1"}, "mark": {"type": "line", "strokeWidth": 2}, "encoding": {"color": {"datum": "SE", "type": "nominal"}, "strokeDash": {"datum": "SE", "type": "nominal"}}}
      ]
    },
    {
      "width": 402, "height": 343,
      "title": {"text": "(d)", "dx": -59, "dy": 18},
      "encoding": {
        "x": {"field": "f", "type": "quantitative", "scale": {"domain": [0, 12000], "nice": false}, "axis": {"values": [0, 2000, 4000, 6000, 8000, 10000, 12000], "format": "d", "title": "Frequency [Hz]"}},
        "y": {"field": "t", "type": "quantitative", "scale": {"domain": [-60, 60], "nice": false}, "axis": {"values": [-60, -40, -20, 0, 20, 40, 60], "title": "Transmittance [dB  re 1 m/m]"}}
      },
      "layer": [
        {"data": {"name": "d1"}, "mark": {"type": "line", "strokeWidth": 2}, "encoding": {
          "color": {"datum": "WSE", "type": "nominal", "scale": {"domain": ["WSE", "WFE", "FE", "SE"], "range": ["#2020c0", "#e02020", "#3ee03e", "#000000"]}, "legend": {"title": null, "legendX": 296, "legendY": 6}},
          "strokeDash": {"datum": "WSE", "type": "nominal", "scale": {"domain": ["WSE", "WFE", "FE", "SE"], "range": [[1, 0], [1, 0], [6, 4], [6, 4]]}, "legend": {"title": null, "legendX": 296, "legendY": 6}}}},
        {"data": {"name": "d2"}, "mark": {"type": "line", "strokeWidth": 2}, "encoding": {"color": {"datum": "WFE", "type": "nominal"}, "strokeDash": {"datum": "WFE", "type": "nominal"}}},
        {"data": {"name": "d2"}, "mark": {"type": "line", "strokeWidth": 2}, "encoding": {"color": {"datum": "FE", "type": "nominal"}, "strokeDash": {"datum": "FE", "type": "nominal"}}},
        {"data": {"name": "d1"}, "mark": {"type": "line", "strokeWidth": 2}, "encoding": {"color": {"datum": "SE", "type": "nominal"}, "strokeDash": {"datum": "SE", "type": "nominal"}}}
      ]
    }
  ]
}
